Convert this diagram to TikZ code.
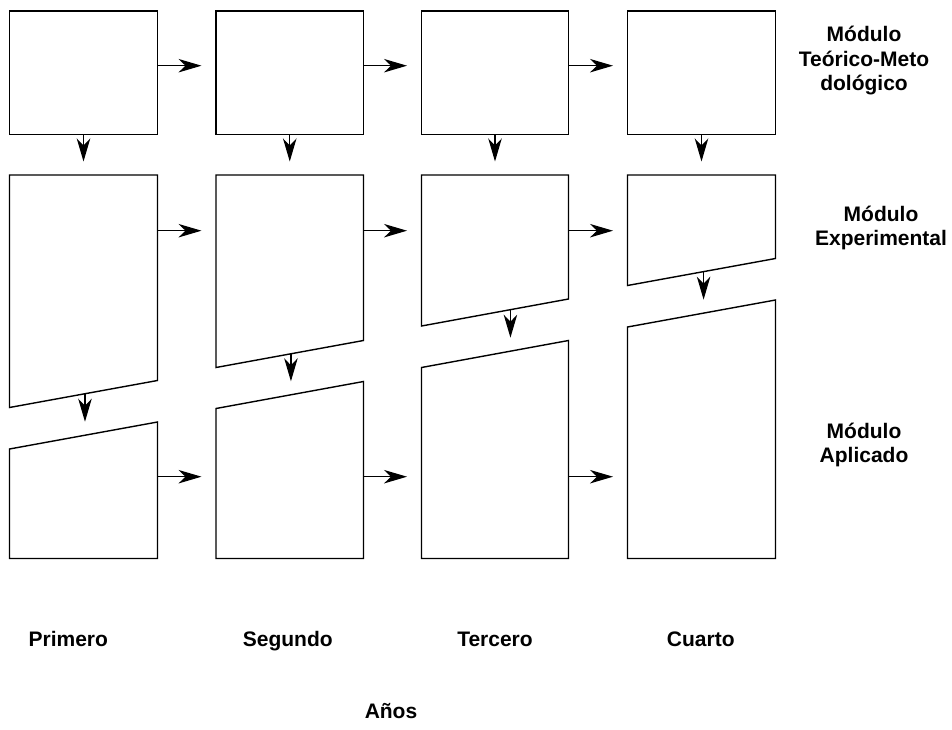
\documentclass[tikz,border=0pt]{standalone}
\usepackage{fontspec}
\setmainfont{Liberation Sans}
\usetikzlibrary{arrows.meta,calc}

% One panel of the plan: a quadrilateral with named corners
% #1 name, #2 left x, #3 right x, #4 top-left y, #5 top-right y,
% #6 bottom-right y, #7 bottom-left y
\newcommand\quadpanel[7]{%
  \coordinate (#1-tl) at (#2,#4);
  \coordinate (#1-tr) at (#3,#5);
  \coordinate (#1-br) at (#3,#6);
  \coordinate (#1-bl) at (#2,#7);
  \draw[panel] (#1-tl) -- (#1-tr) -- (#1-br) -- (#1-bl) -- cycle;}

\begin{document}
\begin{tikzpicture}[x=1pt,y=-1pt,
  panel/.style={draw=black,line width=1.4pt,line join=miter},
  flow/.style={draw=black,line width=1.2pt,
    -{Stealth[length=23pt,width=13.5pt,inset=7pt]}},
  modlabel/.style={font=\fontsize{21}{24.5}\selectfont\bfseries,
    align=center,inner sep=0pt},
  yearlabel/.style={font=\fontsize{21}{24}\selectfont\bfseries,
    inner sep=0pt,anchor=base}]
\useasboundingbox[fill=white] (0,0) rectangle (952,730);

% Row 1: Teórico-Metodológico
\quadpanel{p11}{9.5}{157.5}{11}{11}{134.5}{134.5}
\quadpanel{p12}{216}{363.5}{11}{11}{134.5}{134.5}
\quadpanel{p13}{421.5}{568.5}{11}{11}{134.5}{134.5}
\quadpanel{p14}{627.5}{775.5}{11}{11}{134.5}{134.5}

% Row 2: Experimental (slanted lower edge)
\quadpanel{p21}{9.5}{157.5}{175}{175}{380.5}{407.5}
\quadpanel{p22}{216}{363.5}{175}{175}{340.5}{367.5}
\quadpanel{p23}{421.5}{568.5}{175}{175}{299}{326}
\quadpanel{p24}{627.5}{775.5}{175}{175}{258.5}{285.5}

% Row 3: Aplicado (slanted upper edge)
\quadpanel{p31}{9.5}{157.5}{449}{422}{558.5}{558.5}
\quadpanel{p32}{216}{363.5}{408.5}{381.5}{558.5}{558.5}
\quadpanel{p33}{421.5}{568.5}{367.5}{340.5}{558.5}{558.5}
\quadpanel{p34}{627.5}{775.5}{327}{300}{558.5}{558.5}

% heights of the horizontal connectors
\coordinate (r1) at (0,65.7);
\coordinate (r2) at (0,230.7);
\coordinate (r3) at (0,476.7);

% Horizontal connectors, year to year
\foreach \row in {1,2,3}{
  \draw[flow] (p\row1-tr |- r\row) -- ($(p\row2-tl |- r\row)+(-14.5,0)$);
  \draw[flow] (p\row2-tr |- r\row) -- ($(p\row3-tl |- r\row)+(-14.5,0)$);
  \draw[flow] (p\row3-tr |- r\row) -- ($(p\row4-tl |- r\row)+(-14.5,0)$);
}

% Vertical connectors, row 1 to row 2
\foreach \col in {1,2,3,4}{
  \draw[flow] ($(p1\col-bl)!0.5!(p1\col-br)$) --
              ($(p2\col-tl)!0.5!(p2\col-tr)+(0,-13.5)$);
}

% Vertical connectors, row 2 to row 3
\foreach \col/\t in {1/0.51,2/0.508,3/0.605,4/0.514}{
  \draw[flow] ($(p2\col-bl)!\t!(p2\col-br)$) --
              ($(p3\col-tl)!\t!(p3\col-tr)+(0,-13.5)$);
}

% Module names
\node[modlabel] (mteo) at (864,61) {Módulo\\Teórico-Meto\\dológico};
\node[modlabel] (mexp) at (881,228) {Módulo\\Experimental};
\node[modlabel] (mapl) at (864,445) {Módulo\\Aplicado};

% Years
\node[yearlabel] (y1) at (68.3,646) {Primero};
\node[yearlabel] (y2) at (287.8,646) {Segundo};
\node[yearlabel] (y3) at (495,646) {Tercero};
\node[yearlabel] (y4) at (700.8,646) {Cuarto};
\node[yearlabel] (anos) at (391,718.3) {Años};
\end{tikzpicture}
\end{document}
